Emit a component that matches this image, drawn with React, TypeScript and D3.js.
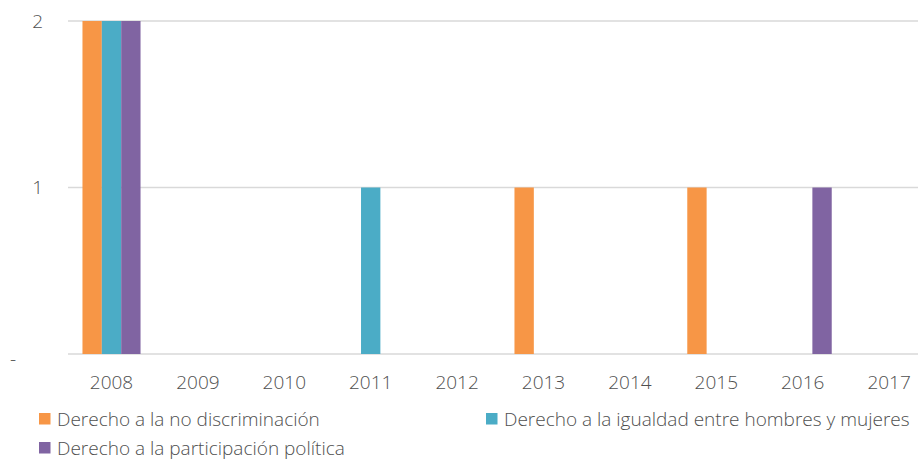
import { useEffect } from "react";
import * as d3 from "d3";

const W = 918, H = 460;
const YEARS = ["2008", "2009", "2010", "2011", "2012", "2013", "2014", "2015", "2016", "2017"];
const SERIES = ["Derecho a la no discriminación", "Derecho a la igualdad entre hombres y mujeres", "Derecho a la participación política"];
const NO_DISCRIMINACION = [2, 0, 0, 0, 0, 1, 0, 1, 0, 0];
const IGUALDAD = [2, 0, 0, 1, 0, 0, 0, 0, 0, 0];
const PARTICIPACION = [2, 0, 0, 0, 0, 0, 0, 0, 1, 0];
const Y_TICKS = [0, 1, 2];
const COLORS = ["#F79646", "#4BACC6", "#8064A2"];

const FONT = "'Open Sans', 'Liberation Sans', sans-serif";
const TEXT = "#4f4f4f";
const FS = 19;

export default function App() {
  useEffect(() => {
    document.body.style.margin = "0";
  }, []);

  const values = [NO_DISCRIMINACION, IGUALDAD, PARTICIPACION];
  const x = d3.scaleBand().domain(YEARS).range([68.3, 932.3]);
  const bw = x.bandwidth();
  const groupW = bw * 0.672;
  const inner = d3.scaleBand().domain(SERIES).range([(bw - groupW) / 2, (bw + groupW) / 2]);
  const y = d3.scaleLinear().domain([0, 2]).range([354, 21]);

  return (
    <svg width={W} height={H} style={{ display: "block", background: "#fff" }} fontFamily={FONT}>
      {Y_TICKS.map(t => (
        <line key={t} x1={68} x2={W} y1={y(t)} y2={y(t)} stroke="#D9D9D9" strokeWidth={1.5} />
      ))}
      {Y_TICKS.map(t => t === 0 ? (
        <text key={t} x={10} y={y(t) + 12} fontSize={FS} fontWeight={300} fill={TEXT}>-</text>
      ) : (
        <text key={t} x={43} y={y(t)} dy="0.35em" textAnchor="end" fontSize={FS} fontWeight={300} fill={TEXT}>{t}</text>
      ))}
      {SERIES.map((s, si) => YEARS.map((yr, i) => {
        const v = values[si][i];
        if (!v) return null;
        return (
          <rect key={s + yr} x={(x(yr) ?? 0) + (inner(s) ?? 0)} width={inner.bandwidth()}
            y={y(v)} height={y(0) - y(v)} fill={COLORS[si]} />
        );
      }))}
      {YEARS.map(yr => (
        <text key={yr} x={(x(yr) ?? 0) + bw / 2} y={389} textAnchor="middle" fontSize={FS} fontWeight={300} fill={TEXT}>{yr}</text>
      ))}
      {[
        { x: 39, y: 413, i: 0 },
        { x: 486, y: 413, i: 1 },
        { x: 39, y: 442, i: 2 },
      ].map(({ x: lx, y: ly, i }) => (
        <g key={i} transform={`translate(${lx},${ly})`}>
          <rect width={11.5} height={11.5} fill={COLORS[i]} />
          <text x={18} y={6} dy="0.35em" fontSize={FS} fontWeight={300} fill={TEXT}>{SERIES[i]}</text>
        </g>
      ))}
    </svg>
  );
}
